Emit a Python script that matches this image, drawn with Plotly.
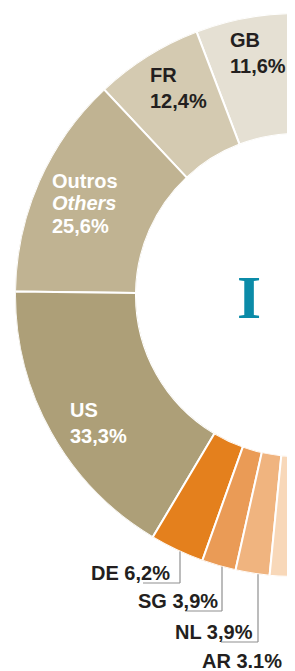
import numpy as np
import plotly.graph_objects as go

# ---- data ----
codes = ["GB", "FR", "Outros", "US", "DE", "SG", "NL", "AR"]
values = [11.6, 12.4, 25.6, 33.3, 6.2, 3.9, 3.9, 3.1]
pct_labels = ["11,6%", "12,4%", "25,6%", "33,3%", "6,2%", "3,9%", "3,9%", "3.1%"]
colors = ["#e5e0d3", "#d4cab1", "#c0b392", "#ad9f78",
          "#e4801d", "#ea9b56", "#f0b47f", "#f8d8b9"]

W, H = 295, 671
OFF = 8                      # default page body margin
CX, CY, R = 297, 295, 282    # pixel geometry of the half donut (window coords)
HOLE = 0.571

def px(x):
    return (x - OFF) / W

def py(y):
    return 1 - (y - OFF) / H

vals = np.array(values, dtype=float)
scale = 180.0 / vals.sum()
starts = 90 + np.concatenate([[0], np.cumsum(vals)[:-1]]) * scale
widths = vals * scale
centers = starts + widths / 2

fig = go.Figure()
fig.add_trace(go.Barpolar(
    r=[1] * len(vals),
    theta=centers,
    width=widths,
    base=0,
    marker=dict(color=colors, line=dict(color="white", width=2)),
    hoverinfo="skip",
    showlegend=False,
))

ann = []
DARK = "#231f20"
FONT = "Liberation Sans, Arial, sans-serif"

def txt(s, x, baseline, color, anchor="left", italic=False):
    if italic:
        s = "<i>" + s + "</i>"
    ann.append(dict(
        text="<b>" + s + "</b>", x=px(x), y=py(baseline - 7),
        xref="paper", yref="paper", xanchor=anchor, yanchor="middle",
        showarrow=False, borderpad=0,
        font=dict(family=FONT, size=20, color=color),
    ))

# inside labels (left x, baselines)
txt(codes[0], 229, 47, DARK); txt(pct_labels[0], 229, 73, DARK)
txt(codes[1], 149, 82, DARK); txt(pct_labels[1], 149, 108, DARK)
txt(codes[2], 51, 188, "white"); txt("Others", 51, 210, "white", italic=True)
txt(pct_labels[2], 51, 233, "white")
txt(codes[3], 69, 417, "white"); txt(pct_labels[3], 69, 443, "white")

# outside labels with leaders: (text right edge, baseline, leader x)
outside = [(171, 580, 180), (219, 608, 222), (254, 639, 258), (283, 668, 288)]
shapes = []
for i, (xr, base, lx) in zip(range(4, 8), outside):
    txt(codes[i] + " " + pct_labels[i], xr, base, DARK, anchor="right")
    ytop = CY + np.sqrt(R ** 2 - (CX - lx) ** 2)
    ybot = base + 3 if i < 7 else H + 20
    shapes.append(dict(type="line", xref="paper", yref="paper",
                       x0=px(lx), x1=px(lx), y0=py(ytop), y1=py(ybot),
                       line=dict(color="#8f8f8f", width=1.2)))
    if i < 7:
        shapes.append(dict(type="line", xref="paper", yref="paper",
                           x0=px(lx - 37), x1=px(lx), y0=py(ybot), y1=py(ybot),
                           line=dict(color="#8f8f8f", width=1.2)))

# central numeral
ann.append(dict(text="<b>I</b>", x=px(249), y=py(297), xref="paper", yref="paper",
                xanchor="center", yanchor="middle", showarrow=False,
                font=dict(family="Liberation Serif, Times New Roman, serif",
                          size=62, color="#0b8ba8")))

fig.update_layout(
    width=W, height=H,
    margin=dict(l=0, r=0, t=0, b=0),
    paper_bgcolor="white", plot_bgcolor="white",
    showlegend=False,
    polar=dict(
        domain=dict(x=[px(CX - R), px(CX)], y=[py(CY + R), py(CY - R)]),
        sector=[90, 270],
        hole=HOLE,
        bgcolor="white",
        radialaxis=dict(visible=False, range=[0, 1]),
        angularaxis=dict(visible=False, rotation=0, direction="counterclockwise"),
    ),
    annotations=ann,
    shapes=shapes,
)

fig.write_html("out.html")
